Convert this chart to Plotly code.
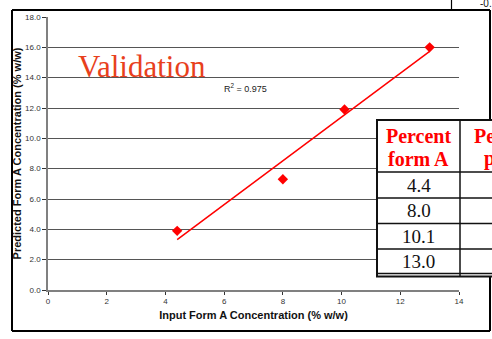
import numpy as np
import plotly.graph_objects as go

# Validation data: input vs predicted Form A concentration (% w/w)
input_conc = [4.4, 8.0, 10.1, 13.0]
predicted_conc = [3.9, 7.3, 11.9, 16.0]
r2_text = "R<sup>2</sup> = 0.975"
x_ticks = [0, 2, 4, 6, 8, 10, 12, 14]
y_ticks = [0, 2, 4, 6, 8, 10, 12, 14, 16, 18]
table_header = ["Percent", "form A"]
table_header2 = ["Percent", "pred."]

W, H = 492, 339
L, R, T, B = 48, 33, 17, 49
PW, PH = W - L - R, H - T - B


def px(x):
    return (x - L) / PW


def py(y):
    return (H - B - y) / PH


def seg(x0, y0, x1, y1, color="#000000", width=1.5):
    return dict(type="line", xref="paper", yref="paper",
                x0=px(x0), x1=px(x1), y0=py(y0), y1=py(y1),
                line=dict(color=color, width=width))


# least-squares trend line
slope, icpt = np.polyfit(input_conc, predicted_conc, 1)
xt = np.array([min(input_conc), max(input_conc)])
yt = slope * xt + icpt

fig = go.Figure()
fig.add_trace(go.Scatter(x=xt, y=yt, mode="lines",
                         line=dict(color="#ff0000", width=1.5),
                         hoverinfo="skip", showlegend=False))
fig.add_trace(go.Scatter(x=input_conc, y=predicted_conc, mode="markers",
                         marker=dict(symbol="diamond", size=8, color="#ff0000"),
                         showlegend=False))

sans = "Liberation Sans, Arial, sans-serif"
axis_font = dict(family=sans, size=8, color="#333333")
title_font = dict(family=sans, size=11, color="#111111")

fig.update_xaxes(range=[0, 14], tickvals=x_ticks, showgrid=False, zeroline=False,
                 showline=True, linecolor="#808080", linewidth=1.5,
                 ticks="outside", ticklen=3, tickcolor="#333333",
                 tickfont=axis_font,
                 title=dict(text="<b>Input Form A Concentration (% w/w)</b>",
                            font=title_font, standoff=6))
fig.update_yaxes(range=[0, 18], tickvals=y_ticks, tickformat=".1f",
                 showgrid=True, gridcolor="#555555", gridwidth=1, zeroline=False,
                 showline=True, linecolor="#808080", linewidth=1.5,
                 ticks="outside", ticklen=4, tickcolor="#333333",
                 tickfont=axis_font,
                 title=dict(text="<b>Predicted Form A Concentration (% w/w)</b>",
                            font=title_font, standoff=1))

shapes = []
ann = []

# outer chart border
shapes.append(seg(12, 10, 490, 10, width=2))
shapes.append(seg(12, 10, 12, 331, width=2))
shapes.append(seg(12, 331, 490, 331, width=2))
shapes.append(seg(490, 10, 490, 331, width=2))

# neighbouring cell at the top right
shapes.append(seg(451.5, -2, 451.5, 10, width=1.2))
ann.append(dict(text="-0.", xref="paper", yref="paper", x=px(478), y=py(4),
                xanchor="left", yanchor="middle", showarrow=False,
                font=dict(family=sans, size=10, color="#111")))

# chart labels
ann.append(dict(text="Validation", xref="paper", yref="paper", x=px(76), y=py(66),
                xanchor="left", yanchor="middle", showarrow=False,
                font=dict(family="Liberation Serif, Times New Roman, serif",
                          size=31, color="#e8401c")))
ann.append(dict(text=r2_text, xref="paper", yref="paper", x=px(222), y=py(88),
                xanchor="left", yanchor="middle", showarrow=False,
                font=dict(family=sans, size=9, color="#222")))

# overlaid table (drawn over the border's right edge)
tx0, tx1, tdiv = 377, 500, 460
ty0 = 120
row_lines = [172, 198, 223.5, 249]
bot1, bot2 = 273.5, 276.5
shapes.append(dict(type="rect", xref="paper", yref="paper",
                   x0=px(tx0), x1=px(tx1), y0=py(ty0), y1=py(bot2),
                   fillcolor="white", line=dict(color="#111111", width=2)))
shapes.append(seg(tdiv, ty0, tdiv, bot2, color="#111111", width=1.5))
for yl in row_lines + [bot1]:
    shapes.append(seg(tx0, yl, tx1, yl, color="#111111", width=1.3))

serif = "Liberation Serif, Times New Roman, serif"
for line_y, a, b in [(136, table_header[0], table_header2[0]),
                     (159, table_header[1], table_header2[1])]:
    ann.append(dict(text=f"<b>{a}</b>", xref="paper", yref="paper", x=px(418.5), y=py(line_y),
                    xanchor="center", yanchor="middle", showarrow=False,
                    font=dict(family=serif, size=20, color="#ff0000")))
    ann.append(dict(text=f"<b>{b}</b>", xref="paper", yref="paper", x=px(506), y=py(line_y),
                    xanchor="center", yanchor="middle", showarrow=False,
                    font=dict(family=serif, size=20, color="#ff0000")))

cells = [172] + row_lines[1:] + [bot1]
for v, ya, yb in zip(input_conc, cells[:-1], cells[1:]):
    ann.append(dict(text=f"{v:.1f}", xref="paper", yref="paper", x=px(418.5), y=py((ya + yb) / 2),
                    xanchor="center", yanchor="middle", showarrow=False,
                    font=dict(family=serif, size=19, color="#111111")))

fig.update_layout(width=W, height=H, margin=dict(l=L, r=R, t=T, b=B),
                  paper_bgcolor="white", plot_bgcolor="white",
                  shapes=shapes, annotations=ann, showlegend=False)

fig.write_html("out.html")
